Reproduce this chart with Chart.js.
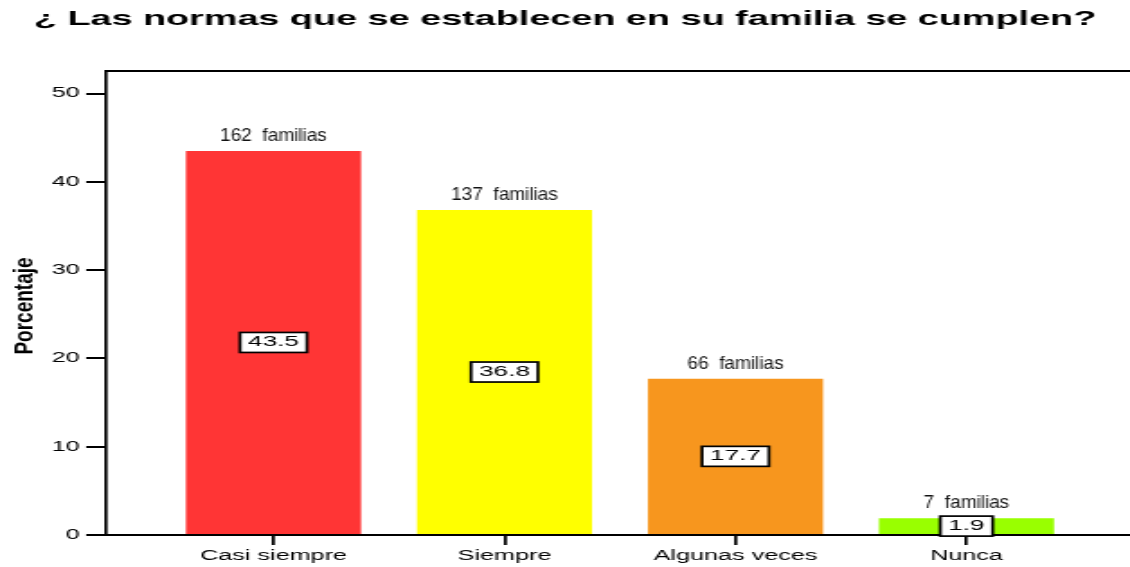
<!DOCTYPE html>
<html>
<head>
<meta charset="utf-8">
<script src="https://cdn.jsdelivr.net/npm/chart.js@4/dist/chart.umd.min.js"></script>
<style>
    body { margin: 0; background: #fff; }
</style>
</head>
<body>
<!-- the original picture is stretched sideways, so the canvas is drawn narrow and widened by css -->
<canvas id="chart" width="628" height="567" style="width:1130px;height:567px;display:block"></canvas>
<script>
var categories = ["Casi siempre", "Siempre", "Algunas veces", "Nunca"];
var percentages = [43.5, 36.8, 17.7, 1.9];
var familyCounts = [162, 137, 66, 7];
var barColors = ["#FF3535", "#FFFF00", "#F7961E", "#99FF00"];
var yTicks = [0, 10, 20, 30, 40, 50];

var STRETCH = 1130 / 628;
var FONT = "Arial, 'Liberation Sans', sans-serif";

var points = [];
for (var i = 0; i < percentages.length; i++) {
    points.push({x: i, y: percentages[i]});
}

// top border of the plot frame
var framePlugin = {
    id: 'frame',
    afterDraw: function (chart) {
        var ctx = chart.ctx;
        var area = chart.chartArea;
        ctx.save();
        ctx.strokeStyle = "#000";
        ctx.lineWidth = 2;
        ctx.beginPath();
        ctx.moveTo(area.left, area.top);
        ctx.lineTo(area.right, area.top);
        ctx.stroke();
        ctx.restore();
    }
};

// "N familias" above each bar and the boxed percentage in its middle
var barLabelsPlugin = {
    id: 'barLabels',
    afterDatasetsDraw: function (chart) {
        var ctx = chart.ctx;
        var meta = chart.getDatasetMeta(0);
        ctx.save();
        for (var i = 0; i < meta.data.length; i++) {
            var bar = meta.data[i];

            ctx.save();
            ctx.translate(bar.x, bar.y - 10);
            ctx.scale(1 / STRETCH, 1);
            ctx.font = "19px " + FONT;
            ctx.fillStyle = "#111";
            ctx.textAlign = "center";
            ctx.textBaseline = "alphabetic";
            ctx.fillText(familyCounts[i] + "  familias", 0, 0);
            ctx.restore();

            var text = percentages[i].toFixed(1);
            ctx.font = "14.5px " + FONT;
            var w = ctx.measureText(text).width + 9;
            var h = 20;
            var cy = (bar.y + bar.base) / 2;
            ctx.fillStyle = "#fff";
            ctx.fillRect(bar.x - w / 2, cy - h / 2, w, h);
            ctx.strokeStyle = "#000";
            ctx.lineWidth = 1.7;
            ctx.strokeRect(bar.x - w / 2, cy - h / 2, w, h);
            ctx.fillStyle = "#000";
            ctx.textAlign = "center";
            ctx.textBaseline = "middle";
            ctx.fillText(text, bar.x, cy);
        }
        ctx.restore();
    }
};

// y axis title, drawn by hand because it is squeezed less than the rest
var yTitlePlugin = {
    id: 'yTitle',
    afterDraw: function (chart) {
        var ctx = chart.ctx;
        ctx.save();
        ctx.translate(13.9, 306);
        ctx.rotate(-Math.PI / 2);
        ctx.scale(1, 0.8);
        ctx.font = "bold 19px " + FONT;
        ctx.fillStyle = "#000";
        ctx.textAlign = "center";
        ctx.textBaseline = "middle";
        ctx.fillText("Porcentaje", 0, 0);
        ctx.restore();
    }
};

var chart = new Chart(document.getElementById('chart').getContext('2d'), {
    type: 'bar',
    data: {
        labels: categories,
        datasets: [
            {
                data: points,
                backgroundColor: barColors,
                borderWidth: 0,
                barPercentage: 0.758,
                categoryPercentage: 1
            }
        ]
    },
    options: {
        responsive: false,
        animation: false,
        devicePixelRatio: 1,
        layout: {padding: 0},
        plugins: {
            legend: {display: false},
            tooltip: {enabled: false},
            title: {
                display: true,
                text: "¿ Las normas que se establecen en su familia se cumplen?",
                color: "#000",
                font: {family: FONT, size: 21, weight: 'bold'},
                padding: {top: 7.1, bottom: 38.7}
            }
        },
        scales: {
            x: {
                type: 'linear',
                offset: false,
                min: -0.725,
                max: 3.708,
                afterBuildTicks: function (axis) {
                    axis.ticks = categories.map(function (c, i) { return {value: i}; });
                },
                afterFit: function (axis) { axis.height = 32; },
                ticks: {
                    color: "#000",
                    font: {family: FONT, size: 14},
                    padding: 3,
                    maxRotation: 0,
                    autoSkip: false,
                    callback: function (value) { return categories[value]; }
                },
                grid: {
                    offset: false,
                    drawOnChartArea: false,
                    tickLength: 10,
                    lineWidth: 1.7,
                    color: "#000"
                },
                border: {color: "#000", width: 2}
            },
            y: {
                min: 0,
                max: 52.55,
                afterBuildTicks: function (axis) {
                    axis.ticks = yTicks.map(function (v) { return {value: v}; });
                },
                afterFit: function (axis) { axis.width = 106 / STRETCH; },
                ticks: {
                    color: "#000",
                    font: {family: FONT, size: 14},
                    padding: 3.5
                },
                grid: {
                    drawOnChartArea: false,
                    tickLength: 11,
                    lineWidth: 2,
                    color: "#000"
                },
                border: {color: "#000", width: 1.7}
            }
        }
    },
    plugins: [framePlugin, barLabelsPlugin, yTitlePlugin]
});
</script>
</body>
</html>
